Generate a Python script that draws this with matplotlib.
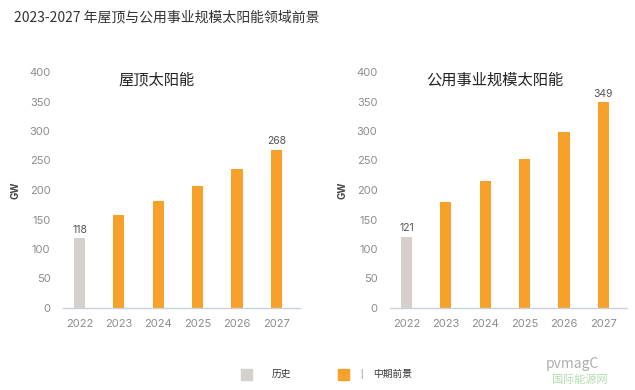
import numpy as np
import matplotlib.pyplot as plt
from matplotlib.patches import Rectangle

plt.rcParams['font.family'] = ['Noto Sans CJK SC', 'DejaVu Sans']

years = ['2022', '2023', '2024', '2025', '2026', '2027']
rooftop = [118, 158, 182, 206, 235, 268]
utility = [121, 180, 216, 253, 298, 349]
titles = ['屋顶太阳能', '公用事业规模太阳能']
main_title = '2023-2027 年屋顶与公用事业规模太阳能领域前景'
legend_labels = ['历史', '中期前景']

grey = '#d6d0cd'
orange = '#f7a02a'
tick_col = '#8c8c8c'

fig = plt.figure(figsize=(6.35, 3.9), dpi=100)
fig.text(14 / 635, 1 - 17 / 390, main_title, fontsize=10, color='#333333',
         va='center', ha='left')

def draw(ax, vals, title, title_x):
    x = np.arange(len(vals))
    colors = [grey] + [orange] * (len(vals) - 1)
    ax.bar(x, vals, width=0.28, color=colors)
    ax.set_xlim(-0.42, 5.6)
    ax.set_ylim(0, 400)
    ax.set_yticks(np.arange(0, 401, 50))
    ax.set_xticks(x)
    ax.set_xticklabels(years)
    ax.tick_params(length=0, labelsize=8, colors=tick_col, pad=8)
    ax.tick_params(axis='y', pad=9)
    for lab in ax.get_xticklabels() + ax.get_yticklabels():
        lab.set_family('Inter')
    for s in ['top', 'right', 'left']:
        ax.spines[s].set_visible(False)
    ax.spines['bottom'].set_color('#c9d1dc')
    ax.spines['bottom'].set_linewidth(1)
    ax.set_ylabel('GW', fontsize=7, fontweight='bold', color='#444444',
                  labelpad=6, family='Inter')
    fig.text(title_x / 635, 1 - 80 / 390, title, fontsize=11, color='#222222',
             ha='center', va='center')
    for i in [0, len(vals) - 1]:
        ax.text(x[i], vals[i] + 6, str(vals[i]), ha='center', va='bottom',
                fontsize=7.5, color='#555555', family='Inter')

ax1 = fig.add_axes([63 / 635, 82 / 390, 237 / 635, 236 / 390])
draw(ax1, rooftop, titles[0], 157)
ax2 = fig.add_axes([390 / 635, 82 / 390, 237 / 635, 236 / 390])
draw(ax2, utility, titles[1], 495)

# legend
for xp, col in [(241, grey), (338, orange)]:
    fig.patches.append(Rectangle((xp / 635, 1 - 380 / 390), 11 / 635, 11 / 390,
                                 color=col, transform=fig.transFigure))
fig.text(272 / 635, 1 - 374 / 390, legend_labels[0], fontsize=7, color='#333333',
         va='center')
fig.text(360 / 635, 1 - 374 / 390, '|', fontsize=6, color='#555555', va='center')
fig.text(373 / 635, 1 - 374 / 390, legend_labels[1], fontsize=7, color='#333333',
         va='center')

# watermark
fig.text(572 / 635, 1 - 364 / 390, 'pvmagC', fontsize=10, color='#9a9a9a',
         va='center', ha='center', alpha=0.8)
fig.text(580 / 635, 1 - 380 / 390, '国际能源网', fontsize=8, color='#9fd39a',
         va='center', ha='center', alpha=0.8)

fig.savefig('out.png', dpi=100, facecolor='white')
